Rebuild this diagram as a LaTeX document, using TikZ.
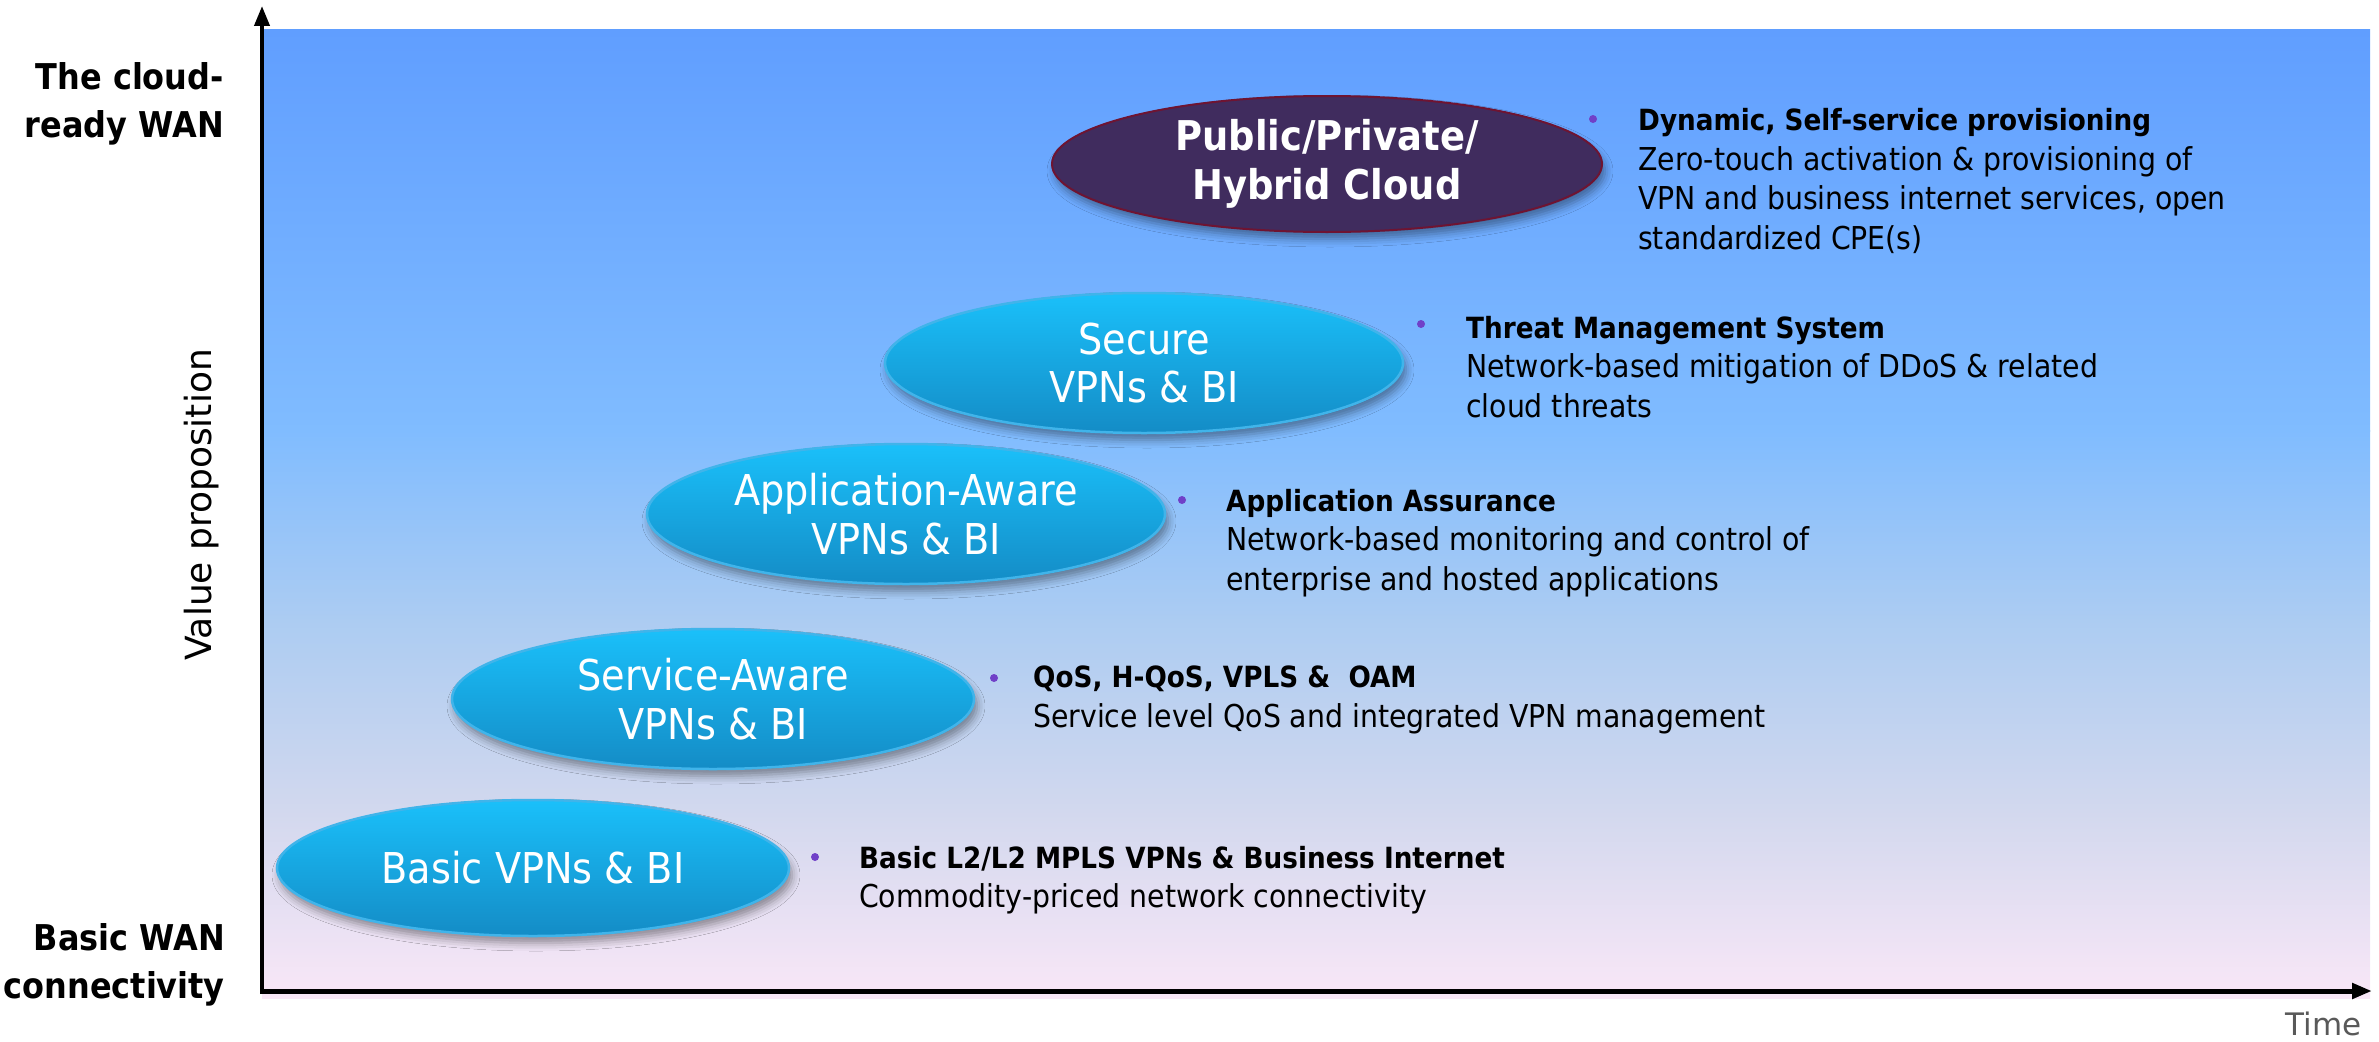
\documentclass[tikz,border=0pt]{standalone}
\usepackage{fontspec}
\setmainfont{DejaVu Sans Condensed}
\newfontfamily\widefont{DejaVu Sans}
\usetikzlibrary{shapes.geometric,arrows.meta,shadows.blur}

% background band colours, top to bottom
\definecolor{bgA}{RGB}{96,158,255}
\definecolor{bgB}{RGB}{128,188,255}
\definecolor{bgC}{RGB}{172,204,242}
\definecolor{bgD}{RGB}{210,216,238}
\definecolor{bgE}{RGB}{249,231,247}
% stage ellipses
\definecolor{cyanTop}{RGB}{26,192,250}
\definecolor{cyanBot}{RGB}{20,140,198}
\definecolor{cyanEdge}{RGB}{64,180,234}
\definecolor{cloudFill}{RGB}{64,44,94}
\definecolor{cloudEdge}{RGB}{110,20,50}
\definecolor{dotPurple}{RGB}{112,64,200}
\definecolor{timeGray}{RGB}{89,89,89}

% heading line of each feature block
\newcommand{\featurehead}[1]{{\bfseries\fontsize{29.2}{39.5}\selectfont #1}}

\tikzset{
  stage/.style={ellipse, draw=cyanEdge, line width=2.5pt,
    top color=cyanTop, bottom color=cyanBot, text=white, align=center,
    inner sep=0pt, font=\fontsize{42.5}{48.5}\selectfont,
    blur shadow={shadow xshift=3pt, shadow yshift=-7pt,
      shadow blur radius=8pt, shadow opacity=40}},
  cloudstage/.style={stage, draw=cloudEdge, line width=2pt,
    top color=cloudFill, bottom color=cloudFill,
    font=\bfseries\fontsize{41}{48.5}\selectfont},
  bulletdot/.style={circle, fill=dotPurple, inner sep=0pt, minimum size=8pt},
  feature/.style={anchor=west, align=left, inner sep=0pt,
    font=\fontsize{31.5}{39.5}\selectfont},
  levellabel/.style={align=right, anchor=east, inner sep=0pt,
    font=\bfseries\fontsize{35.5}{48}\selectfont},
  axisline/.style={line width=4pt, line cap=rect,
    -{Triangle[length=20pt,width=15pt]}}
}

\begin{document}
\begin{tikzpicture}[x=1pt,y=-1pt]
\useasboundingbox (0,0) rectangle (2379,1041);

% graded backdrop
\shade[top color=bgA, bottom color=bgB] (262,30) rectangle (2370,431);
\shade[top color=bgB, bottom color=bgC] (262,430) rectangle (2370,621);
\shade[top color=bgC, bottom color=bgD] (262,620) rectangle (2370,811);
\shade[top color=bgD, bottom color=bgE] (262,810) rectangle (2370,998);

% axes
\coordinate (origin) at (262,991);
\coordinate (ytip) at (262,6);
\coordinate (xtip) at (2372,991);
\draw[axisline] (origin) -- (ytip);
\draw[axisline, line width=5pt] (origin) -- (xtip);

% axis labels
\node[levellabel] (toplabel) at (224,104) {The cloud-\\ready WAN};
\node[levellabel] (bottomlabel) at (225,965) {Basic WAN\\connectivity};
\node[rotate=90, inner sep=0pt, font=\widefont\fontsize{36}{40}\selectfont]
  (vp) at (202,505) {Value proposition};
\node[anchor=east, inner sep=0pt, text=timeGray,
  font=\widefont\fontsize{31}{36}\selectfont] (time) at (2362,1024) {Time};

% stages
\node[stage, minimum width=512pt, minimum height=136pt] (basic) at (533,868)
  {Basic VPNs \& BI};
\node[stage, minimum width=522pt, minimum height=140pt] (service) at (713,699)
  {Service-Aware\\VPNs \& BI};
\node[stage, minimum width=518pt, minimum height=140pt] (app) at (906,514)
  {Application-Aware\\VPNs \& BI};
\node[stage, minimum width=518pt, minimum height=140pt] (secure) at (1144,363)
  {Secure\\VPNs \& BI};
\node[cloudstage, minimum width=550pt, minimum height=136pt] (cloud) at (1327,164)
  {Public/Private/\\Hybrid Cloud};

% feature descriptions
\node[bulletdot] (d1) at (1593,119) {};
\node[feature] (f1) at (1638,181)
  {\featurehead{Dynamic, Self-service provisioning}\\
   Zero-touch activation \& provisioning of\\
   VPN and business internet services, open\\
   standardized CPE(s)};

\node[bulletdot] (d2) at (1421,324) {};
\node[feature] (f2) at (1466,367)
  {\featurehead{Threat Management System}\\
   Network-based mitigation of DDoS \& related\\
   cloud threats};

\node[bulletdot] (d3) at (1182,500) {};
\node[feature] (f3) at (1226,543)
  {\featurehead{Application Assurance}\\
   Network-based monitoring and control of\\
   enterprise and hosted applications};

\node[bulletdot] (d4) at (994,678) {};
\node[feature] (f4) at (1033,700)
  {\featurehead{QoS, H-QoS, VPLS \&~ OAM}\\
   Service level QoS and integrated VPN management};

\node[bulletdot] (d5) at (815,857) {};
\node[feature] (f5) at (859,880)
  {\featurehead{Basic L2/L2 MPLS VPNs \& Business Internet}\\
   Commodity-priced network connectivity};
\end{tikzpicture}
\end{document}
